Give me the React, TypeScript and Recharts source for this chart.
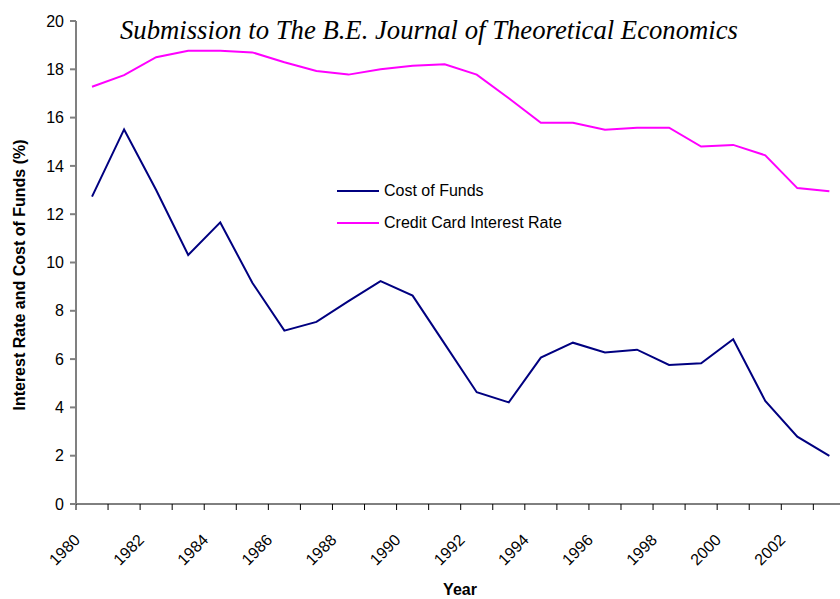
import React from 'react';
import { LineChart, Line, XAxis, YAxis } from 'recharts';

const years = [
  1980, 1981, 1982, 1983, 1984, 1985, 1986, 1987, 1988, 1989, 1990, 1991,
  1992, 1993, 1994, 1995, 1996, 1997, 1998, 1999, 2000, 2001, 2002, 2003,
];
const costOfFunds = [
  12.73, 15.51, 13.0, 10.31, 11.66, 9.16, 7.18, 7.54, 8.4, 9.23, 8.63, 6.63,
  4.63, 4.21, 6.06, 6.68, 6.27, 6.39, 5.76, 5.83, 6.82, 4.27, 2.79, 1.99,
];
const creditCardRate = [
  17.28, 17.76, 18.5, 18.77, 18.77, 18.7, 18.29, 17.93, 17.78, 18.0, 18.15, 18.21,
  17.78, 16.8, 15.79, 15.79, 15.5, 15.58, 15.58, 14.8, 14.87, 14.44, 13.08, 12.95,
];
const seriesNames = ['Cost of Funds', 'Credit Card Interest Rate'];
const seriesColors = ['#000080', '#ff00ff'];
const yTicks = [0, 2, 4, 6, 8, 10, 12, 14, 16, 18, 20];
const xTicks = [...years, 2004];

// annual values plotted in the middle of each year band
const data = years.map((y, i) => ({
  x: y + 0.5,
  cost: costOfFunds[i],
  card: creditCardRate[i],
}));

const font = '"Liberation Sans", Arial, sans-serif';

const XTick = (props: any) => {
  const { x, y, payload } = props;
  if (payload.value % 2 !== 0 || payload.value > 2003) return null;
  return (
    <text
      x={0}
      y={0}
      transform={`translate(${x + 5},${y + 29}) rotate(-45)`}
      textAnchor='end'
      fontSize={16}
      fontFamily={font}
      fill='#000'>
      {payload.value}
    </text>
  );
};

const YLabel = () => (
  <text
    transform='translate(25,275) rotate(-90)'
    textAnchor='middle'
    fontSize={16}
    fontWeight='bold'
    fontFamily={font}
    fill='#000'>
    Interest Rate and Cost of Funds (%)
  </text>
);

export default function App() {
  return (
    <div style={{ position: 'absolute', left: 0, top: 0, width: 840, height: 599, overflow: 'hidden', background: '#fff' }}>
      <div
        style={{
          position: 'absolute',
          left: 120,
          top: 15,
          fontFamily: '"Liberation Serif", "Times New Roman", serif',
          fontStyle: 'italic',
          fontSize: 26.7,
          color: '#000',
          whiteSpace: 'nowrap',
          zIndex: 2,
        }}>
        Submission to The B.E. Journal of Theoretical Economics
      </div>
      <div style={{ position: 'absolute', left: 337, top: 175, fontFamily: font, fontSize: 16, color: '#000', zIndex: 2 }}>
        {seriesNames.map((name, i) => (
          <div key={name} style={{ display: 'flex', alignItems: 'center', height: 32 }}>
            <div style={{ width: 42, height: 2, background: seriesColors[i], marginRight: 5 }} />
            <span>{name}</span>
          </div>
        ))}
      </div>
      <div
        style={{
          position: 'absolute',
          left: 460,
          top: 581,
          transform: 'translateX(-50%)',
          fontFamily: font,
          fontSize: 16,
          fontWeight: 'bold',
          color: '#000',
          zIndex: 2,
        }}>
        Year
      </div>
      <LineChart width={850} height={599} data={data} margin={{ top: 21, right: 4.6, left: 0, bottom: 0 }}>
        <XAxis
          dataKey='x'
          type='number'
          domain={[1980, 2004]}
          ticks={xTicks}
          interval={0}
          height={95}
          tick={<XTick />}
          tickSize={6}
          stroke='#000'
        />
        <YAxis
          domain={[0, 20]}
          ticks={yTicks}
          width={76}
          tickSize={6}
          tickMargin={6}
          stroke='#808080'
          strokeWidth={2}
          tick={{ fontFamily: font, fontSize: 16, fill: '#000' }}
          label={<YLabel />}
        />
        <Line dataKey='cost' name={seriesNames[0]} stroke={seriesColors[0]} strokeWidth={2} dot={false} isAnimationActive={false} />
        <Line dataKey='card' name={seriesNames[1]} stroke={seriesColors[1]} strokeWidth={2} dot={false} isAnimationActive={false} />
      </LineChart>
    </div>
  );
}
